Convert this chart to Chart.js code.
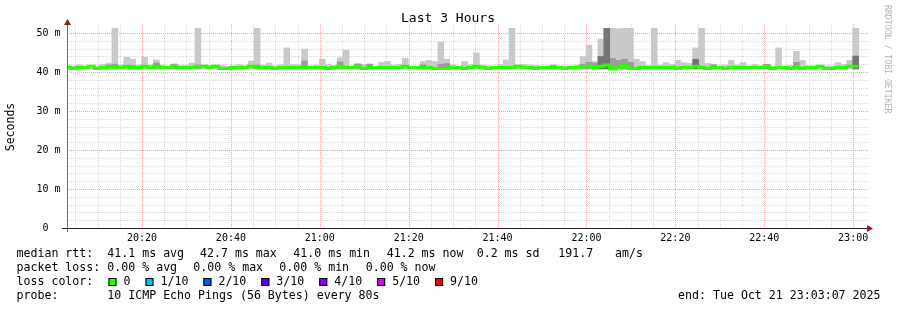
<!DOCTYPE html>
<html>
<head>
<meta charset="utf-8">
<script src="https://cdn.jsdelivr.net/npm/chart.js@4/dist/chart.umd.min.js"></script>
<style>
  html, body { margin: 0; padding: 0; background: #fff; }
  canvas { display: block; }
</style>
</head>
<body>
<canvas id="graficoPing" width="897" height="310"></canvas>
<script>
// === DATA ===
const windowStart = '20:03:07';
const windowEnd = '23:03:07';
const stepSeconds = 80;
const firstStepCenter = 7;          // seconds after windowStart
const timeLabels = ['20:20', '20:40', '21:00', '21:20', '21:40', '22:00', '22:20', '22:40', '23:00'];
const yLabels = [0, 10, 20, 30, 40, 50];
const yMax = 51.3;
const smokeFloor = 40.8;

// median rtt per 80s step (ms)
const median = [
  41.2, 40.9, 41.2, 41.2, 41.5, 40.9, 41.2, 41.2, 41.2, 41.2,
  41.5, 41.2, 41.2, 41.5, 41.2, 41.5, 41.2, 41.2, 41.5, 41.2,
  41.2, 41.2, 41.5, 41.5, 41.2, 41.5, 40.9, 40.9, 41.2, 41.2,
  41.2, 41.5, 41.2, 41.2, 41.2, 40.9, 41.2, 41.2, 41.2, 41.2,
  41.2, 41.2, 41.2, 41.2, 40.9, 41.2, 41.5, 41.2, 41.2, 41.5,
  40.9, 41.2, 41.2, 41.2, 41.2, 41.2, 41.2, 41.5, 41.2, 41.2,
  41.2, 41.2, 40.9, 40.9, 40.9, 41.2, 41.2, 40.9, 41.2, 41.5,
  41.2, 40.9, 41.2, 41.2, 41.2, 41.2, 41.5, 41.2, 41.2, 40.9,
  41.2, 41.2, 41.2, 41.2, 40.9, 41.2, 41.2, 41.5, 41.5, 41.2,
  41.5, 41.8, 40.8, 41.2, 41.6, 41.0, 40.9, 41.2, 41.2, 41.2,
  41.2, 41.2, 41.2, 40.9, 41.2, 41.2, 41.5, 41.2, 40.9, 41.2,
  41.2, 40.9, 41.2, 41.2, 41.2, 41.2, 41.2, 41.2, 41.5, 40.9,
  41.2, 41.2, 40.9, 41.2, 40.9, 41.2, 41.2, 41.5, 40.9, 40.9,
  41.2, 41.2, 41.5, 41.5
];

// top of the smoke (slowest ping) per step
const smokeTop = [
  41.7, 41.6, 41.9, 41.6, 41.7, 41.6, 42.0, 42.3, 51.3, 41.7,
  43.8, 43.3, 41.8, 43.8, 41.8, 43.1, 41.8, 41.5, 42.1, 41.7,
  41.7, 42.3, 51.3, 41.8, 41.8, 41.8, 41.7, 41.5, 41.6, 41.9,
  41.7, 42.8, 51.3, 41.8, 42.3, 41.6, 41.9, 46.2, 41.9, 41.9,
  45.9, 41.6, 41.8, 43.3, 42.0, 41.7, 43.7, 45.6, 41.5, 42.2,
  42.0, 42.1, 41.5, 42.5, 42.7, 41.8, 42.0, 43.5, 41.5, 41.5,
  42.7, 43.0, 42.7, 47.7, 43.3, 41.9, 41.5, 42.7, 41.9, 44.9,
  41.8, 41.6, 41.5, 42.0, 43.1, 51.3, 41.8, 42.0, 41.8, 41.7,
  41.5, 41.6, 41.9, 41.6, 41.6, 41.6, 41.8, 44.0, 46.9, 42.7,
  48.5, 51.3, 51.3, 51.1, 51.3, 51.3, 43.3, 42.7, 41.7, 51.3,
  41.8, 42.4, 42.0, 43.0, 42.4, 42.2, 46.2, 51.3, 42.2, 42.0,
  41.6, 41.8, 43.0, 41.8, 42.4, 41.6, 42.0, 41.6, 42.0, 41.5,
  46.2, 41.5, 41.7, 45.3, 43.0, 41.6, 41.6, 41.7, 41.6, 41.6,
  42.4, 42.0, 43.0, 51.3
];

// denser smoke bands: [step, top]
const smokeMid = [
  [7, 41.8], [8, 42.0], [11, 41.7], [15, 42.3], [18, 42.0], [22, 41.8], [32, 41.8],
  [40, 42.9], [46, 42.6], [49, 42.0], [51, 42.0], [60, 41.9], [63, 42.0], [64, 42.2],
  [82, 41.7], [87, 42.0], [88, 42.5], [89, 42.3], [92, 43.5], [93, 43.0], [94, 43.3],
  [95, 42.5], [109, 41.9], [118, 42.0], [123, 42.5]
];
const smokeDark = [[90, 44.0], [91, 51.3], [106, 43.3], [133, 44.1]];

const lossLabels = ['0', '1/10', '2/10', '3/10', '4/10', '5/10', '9/10'];
const lossColors = ['#26ff00', '#00b8ff', '#0059ff', '#5e00ff', '#7e00ff', '#dd00ff', '#ff0000'];

// === HELPERS ===
const mono = '"DejaVu Sans Mono", monospace';
const toSec = hhmm => hhmm.split(':').map(Number).reduce((acc, v, i) => acc + v * [3600, 60, 1][i], 0);
const t0 = toSec(windowStart);
const span = toSec(windowEnd) - t0;
const stepX = i => firstStepCenter + i * stepSeconds;

const lightData = smokeTop.map((v, i) => ({ x: stepX(i), y: [smokeFloor, v] }));
const midData = smokeMid.map(([i, v]) => ({ x: stepX(i), y: [smokeFloor, v] }));
const darkData = smokeDark.map(([i, v]) => ({ x: stepX(i), y: [smokeFloor, v] }));
const medianData = median.map((v, i) => ({ x: stepX(i), y: v }));
// stretch the first and last step to their edges
medianData.unshift({ x: stepX(0) - stepSeconds / 2, y: median[0] });
medianData.push({ x: stepX(median.length - 1) + stepSeconds / 2, y: median[median.length - 1] });

// === GRID, AXES AND TEXT ===
const rrdPlugin = {
  id: 'rrd',
  beforeDatasetsDraw(chart) {
    const { ctx, chartArea: a, scales: { x, y } } = chart;
    ctx.save();
    ctx.lineWidth = 1;
    ctx.setLineDash([1, 1]);
    const minor = '#d9d9d9', major = '#f3a3a3';
    for (let v = 2; v < yMax; v += 2) {
      const py = Math.round(y.getPixelForValue(v)) + 0.5;
      ctx.strokeStyle = v % 10 === 0 ? major : minor;
      ctx.beginPath(); ctx.moveTo(a.left, py); ctx.lineTo(a.right + 2, py); ctx.stroke();
    }
    for (let s = Math.ceil(t0 / 300) * 300; s <= t0 + span; s += 300) {
      const px = Math.round(x.getPixelForValue(s - t0)) + 0.5;
      ctx.strokeStyle = s % 1200 === 0 ? major : minor;
      ctx.beginPath(); ctx.moveTo(px, a.top - 4); ctx.lineTo(px, a.bottom); ctx.stroke();
    }
    ctx.restore();
  },
  afterDatasetsDraw(chart) {
    const { ctx, chartArea: a } = chart;
    ctx.save();
    ctx.lineWidth = 1;
    // y axis
    ctx.strokeStyle = '#707070';
    ctx.beginPath(); ctx.moveTo(a.left + 0.5, a.bottom + 4); ctx.lineTo(a.left + 0.5, a.top - 5); ctx.stroke();
    // x axis
    ctx.strokeStyle = '#222';
    ctx.beginPath(); ctx.moveTo(a.left - 5, a.bottom + 0.5); ctx.lineTo(a.right + 2, a.bottom + 0.5); ctx.stroke();
    // arrows
    ctx.fillStyle = '#8e1f1f';
    ctx.beginPath();
    ctx.moveTo(a.left + 0.5, a.top - 9); ctx.lineTo(a.left - 3, a.top - 3); ctx.lineTo(a.left + 4, a.top - 3);
    ctx.closePath(); ctx.fill();
    ctx.beginPath();
    ctx.moveTo(a.right + 6, a.bottom + 0.5); ctx.lineTo(a.right, a.bottom - 3); ctx.lineTo(a.right, a.bottom + 4);
    ctx.closePath(); ctx.fill();
    ctx.restore();
  },
  afterDraw(chart) {
    const { ctx, scales: { x, y } } = chart;
    ctx.save();
    ctx.fillStyle = '#000';
    ctx.textBaseline = 'middle';

    // tick labels
    ctx.font = '10px ' + mono;
    ctx.textAlign = 'right';
    yLabels.forEach(v => ctx.fillText(v === 0 ? ' 0  ' : v + ' m', 60.5, y.getPixelForValue(v)));
    ctx.textAlign = 'center';
    timeLabels.forEach(l => ctx.fillText(l, x.getPixelForValue(toSec(l) - t0), 238));

    // title
    ctx.font = '13px ' + mono;
    ctx.fillText('Last 3 Hours', 448, 19);

    // y title
    ctx.save();
    ctx.font = '11.5px ' + mono;
    ctx.translate(11, 127);
    ctx.rotate(-Math.PI / 2);
    ctx.fillText('Seconds', 0, 0);
    ctx.restore();

    // watermark
    ctx.save();
    ctx.font = '8.2px ' + mono;
    ctx.fillStyle = '#b4b4b4';
    ctx.translate(887, 5);
    ctx.rotate(Math.PI / 2);
    ctx.textAlign = 'left';
    ctx.fillText('RRDTOOL / TOBI OETIKER', 0, 0);
    ctx.restore();

    // legend
    ctx.font = '11.6px ' + mono;
    ctx.textAlign = 'left';
    const row = (items, yy) => items.forEach(([txt, xx]) => ctx.fillText(txt, xx, yy));
    row([['median rtt:', 16.5], ['41.1 ms avg', 107.3], ['42.7 ms max', 200], ['41.0 ms min', 293.3],
         ['41.2 ms now', 386.7], ['0.2 ms sd', 476.7], ['191.7', 558.3], ['am/s', 615]], 254);
    row([['packet loss:', 16.5], ['0.00 % avg', 107.3], ['0.00 % max', 193.3], ['0.00 % min', 279.3],
         ['0.00 % now', 365.7]], 268);
    ctx.fillText('loss color:', 16.5, 282);
    let bx = 108.5;
    lossLabels.forEach((l, i) => {
      ctx.fillStyle = lossColors[i];
      ctx.fillRect(bx, 278, 8, 8);
      ctx.strokeStyle = '#000';
      ctx.strokeRect(bx + 0.5, 278.5, 7, 7);
      ctx.fillStyle = '#000';
      ctx.fillText(l, bx + 15, 282);
      bx += 15 + ctx.measureText(l).width + 15;
    });
    row([['probe:', 16.5], ['10 ICMP Echo Pings (56 Bytes) every 80s', 107.3]], 296);
    ctx.textAlign = 'right';
    ctx.fillText('end: Tue Oct 21 23:03:07 2025', 880.5, 296);
    ctx.restore();
  }
};

// === CHART ===
const barBase = { type: 'bar', grouped: false, borderWidth: 0, barPercentage: 1, categoryPercentage: 1 };

new Chart(document.getElementById('graficoPing'), {
  type: 'bar',
  data: {
    datasets: [
      { ...barBase, label: 'smoke', data: lightData, backgroundColor: '#c9c9c9', order: 3 },
      { ...barBase, label: 'smoke mid', data: midData, backgroundColor: '#9c9c9c', order: 2 },
      { ...barBase, label: 'smoke dark', data: darkData, backgroundColor: '#747474', order: 1 },
      {
        type: 'line', label: 'median rtt', data: medianData, stepped: 'middle',
        borderColor: '#26ff00', borderWidth: 3, pointRadius: 0, fill: false, order: 0
      }
    ]
  },
  options: {
    responsive: false,
    animation: false,
    layout: { padding: { left: 67, right: 30, top: 28, bottom: 82 } },
    plugins: { legend: { display: false }, tooltip: { enabled: false } },
    scales: {
      x: { type: 'linear', display: false, min: 0, max: span, offset: false },
      y: { type: 'linear', display: false, min: 0, max: yMax }
    }
  },
  plugins: [rrdPlugin]
});
</script>
</body>
</html>
